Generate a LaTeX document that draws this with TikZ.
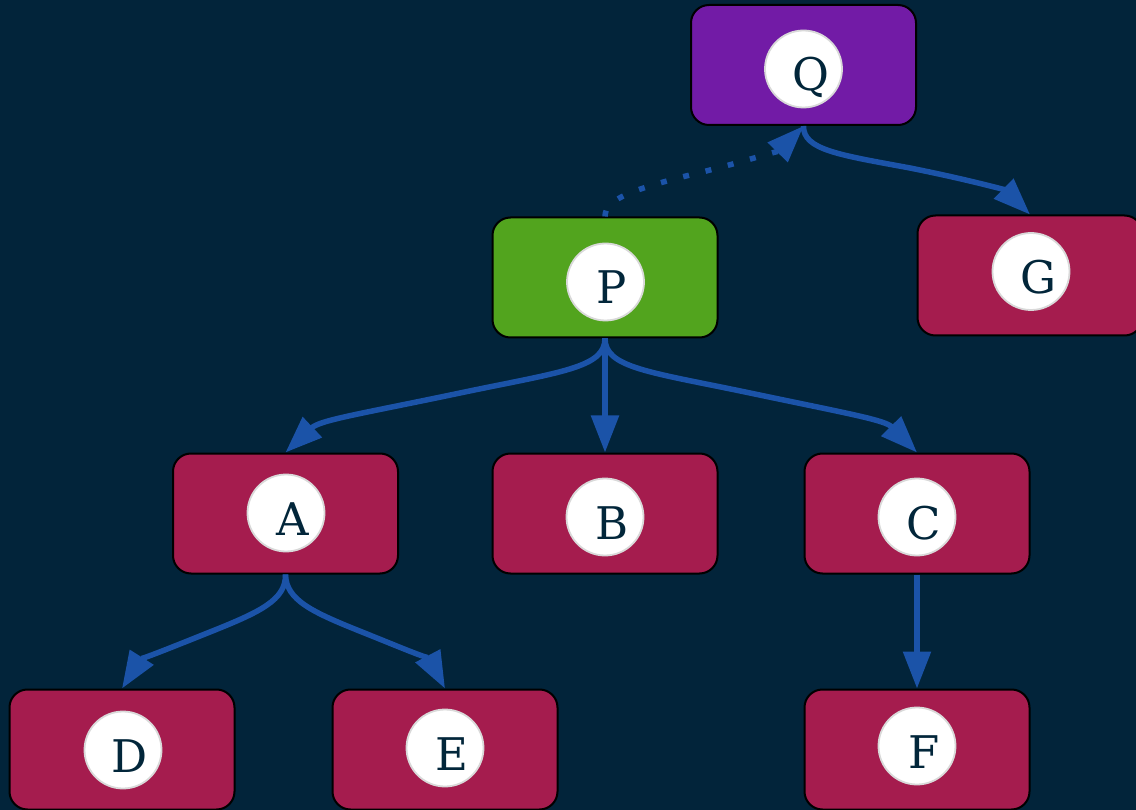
\documentclass[tikz,border=0pt]{standalone}
\usepackage{fontspec}
\setmainfont{DejaVu Serif}
\usetikzlibrary{arrows.meta}
\definecolor{bgc}{HTML}{02243A}
\definecolor{edgec}{HTML}{1B53A8}
\definecolor{purp}{HTML}{721BA6}
\definecolor{grn}{HTML}{52A41E}
\definecolor{crim}{HTML}{A51C4E}
\definecolor{txtc}{HTML}{02263A}
\begin{document}
\begin{tikzpicture}[x=1pt,y=-1pt,
  box/.style={draw=black, line width=2pt, rounded corners=18pt, minimum width=225pt, minimum height=120pt, inner sep=0pt},
  disc/.style={circle, fill=white, draw=black!15, line width=1.8pt, minimum size=77pt, inner sep=0pt},
  lbl/.style={text=txtc, font=\fontsize{45}{50}\selectfont, inner sep=0pt, anchor=base},
  link/.style={draw=edgec, line width=5.5pt, -{Triangle[length=37pt,width=27pt]}},
  dotlink/.style={link, dash pattern=on 6pt off 17pt}]
\fill[bgc] (0,0) rectangle (1136,810);
\useasboundingbox (0,0) rectangle (1136,810);
% boxes
\node[box, fill=purp] (Q) at (803.5,65) {};
\node[box, fill=grn]  (P) at (605,277.5) {};
\node[box, fill=crim] (G) at (1030,275.5) {};
\node[box, fill=crim] (A) at (285.5,513.5) {};
\node[box, fill=crim] (B) at (605,513.5) {};
\node[box, fill=crim] (C) at (917,513.5) {};
\node[box, fill=crim] (D) at (122,749.5) {};
\node[box, fill=crim] (E) at (445,749.5) {};
\node[box, fill=crim] (F) at (917,749.5) {};
% discs
\node[disc] (Qc) at (803.5,69) {};
\node[disc] (Pc) at (605.5,282) {};
\node[disc] (Gc) at (1031,271.5) {};
\node[disc] (Ac) at (286,513) {};
\node[disc] (Bc) at (605,517) {};
\node[disc] (Cc) at (917,517) {};
\node[disc] (Dc) at (123,750) {};
\node[disc] (Ec) at (445,748) {};
\node[disc] (Fc) at (917,746) {};
% letters
\node[lbl] (Qt) at (810.5,91) {Q};
\node[lbl] (Pt) at (612,304) {P};
\node[lbl] (Gt) at (1038,293.5) {G};
\node[lbl] (At) at (293,535) {A};
\node[lbl] (Bt) at (612,539) {B};
\node[lbl] (Ct) at (924,539) {C};
\node[lbl] (Dt) at (130,772) {D};
\node[lbl] (Et) at (452,770) {E};
\node[lbl] (Ft) at (924,768) {F};
% edges
\draw[dotlink] (P.north) .. controls (605,200) and (630,190) .. (690,175) .. controls (740,163) and (780,150) .. (Q.south);
\draw[link] (Q.south) .. controls (803,150) and (840,155) .. (910,168) .. controls (970,180) and (1005,190) .. (G.north);
\draw[link] (P.south) .. controls (605,368) and (560,372) .. (460,393) .. controls (360,414) and (320,420) .. (A.north);
\draw[link] (P.south) -- (B.north);
\draw[link] (P.south) .. controls (605,368) and (650,372) .. (750,393) .. controls (850,414) and (885,420) .. (C.north);
\draw[link] (A.south) .. controls (286,600) and (260,612) .. (210,632) .. controls (170,648) and (140,660) .. (D.north);
\draw[link] (A.south) .. controls (286,600) and (312,612) .. (362,632) .. controls (402,648) and (430,660) .. (E.north);
\draw[link] (C.south) -- (F.north);
\end{tikzpicture}
\end{document}
